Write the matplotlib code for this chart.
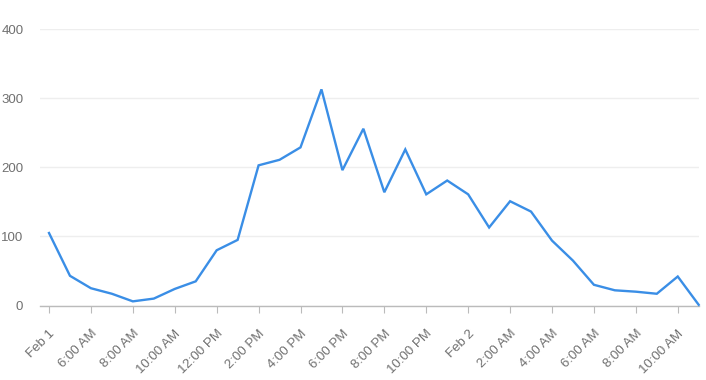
import matplotlib
matplotlib.use('Agg')
import matplotlib.pyplot as plt

# hourly values, Feb 1 4:00 AM -> Feb 2 11:00 AM
values = [105, 43, 25, 17, 6, 10, 24, 35, 80, 95,
          203, 211, 229, 313, 196, 256, 164, 226, 161, 181,
          161, 113, 151, 136, 94, 65, 30, 22, 20, 17,
          42, 1]
tick_labels = ['Feb 1', '6:00 AM', '8:00 AM', '10:00 AM', '12:00 PM', '2:00 PM',
               '4:00 PM', '6:00 PM', '8:00 PM', '10:00 PM', 'Feb 2', '2:00 AM',
               '4:00 AM', '6:00 AM', '8:00 AM', '10:00 AM']
y_ticks = [0, 100, 200, 300, 400]

plt.rcParams['font.family'] = ['Liberation Sans', 'DejaVu Sans']

fig = plt.figure(figsize=(7.06, 3.80), dpi=100)
ax = fig.add_axes([40 / 706, 1 - 305.5 / 380, 658.7 / 706, 276.2 / 380])

x = list(range(len(values)))
ax.plot(x, values, color='#3a8ee6', lw=1.7, clip_on=False, zorder=3,
        solid_joinstyle='miter')

ax.set_xlim(-0.43, 31)
ax.set_ylim(0, 400)

ax.set_yticks(y_ticks)
ax.set_yticklabels([str(v) for v in y_ticks])
ax.grid(axis='y', color='#eeeeee', lw=1)
ax.set_axisbelow(True)

ax.set_xticks(x[::2])
ax.set_xticklabels(tick_labels, rotation=45, ha='right', va='top',
                   rotation_mode='anchor')

for s in ['top', 'right', 'left']:
    ax.spines[s].set_visible(False)
ax.spines['bottom'].set_color('#bbbbbb')
ax.spines['bottom'].set_linewidth(1)

ax.tick_params(axis='y', length=0, pad=12, labelsize=9.5, labelcolor='#707070')
ax.tick_params(axis='x', length=5, width=0.8, color='#bbbbbb', pad=11,
               labelsize=9.5, labelcolor='#707070')

plt.savefig('out.png', dpi=100)
